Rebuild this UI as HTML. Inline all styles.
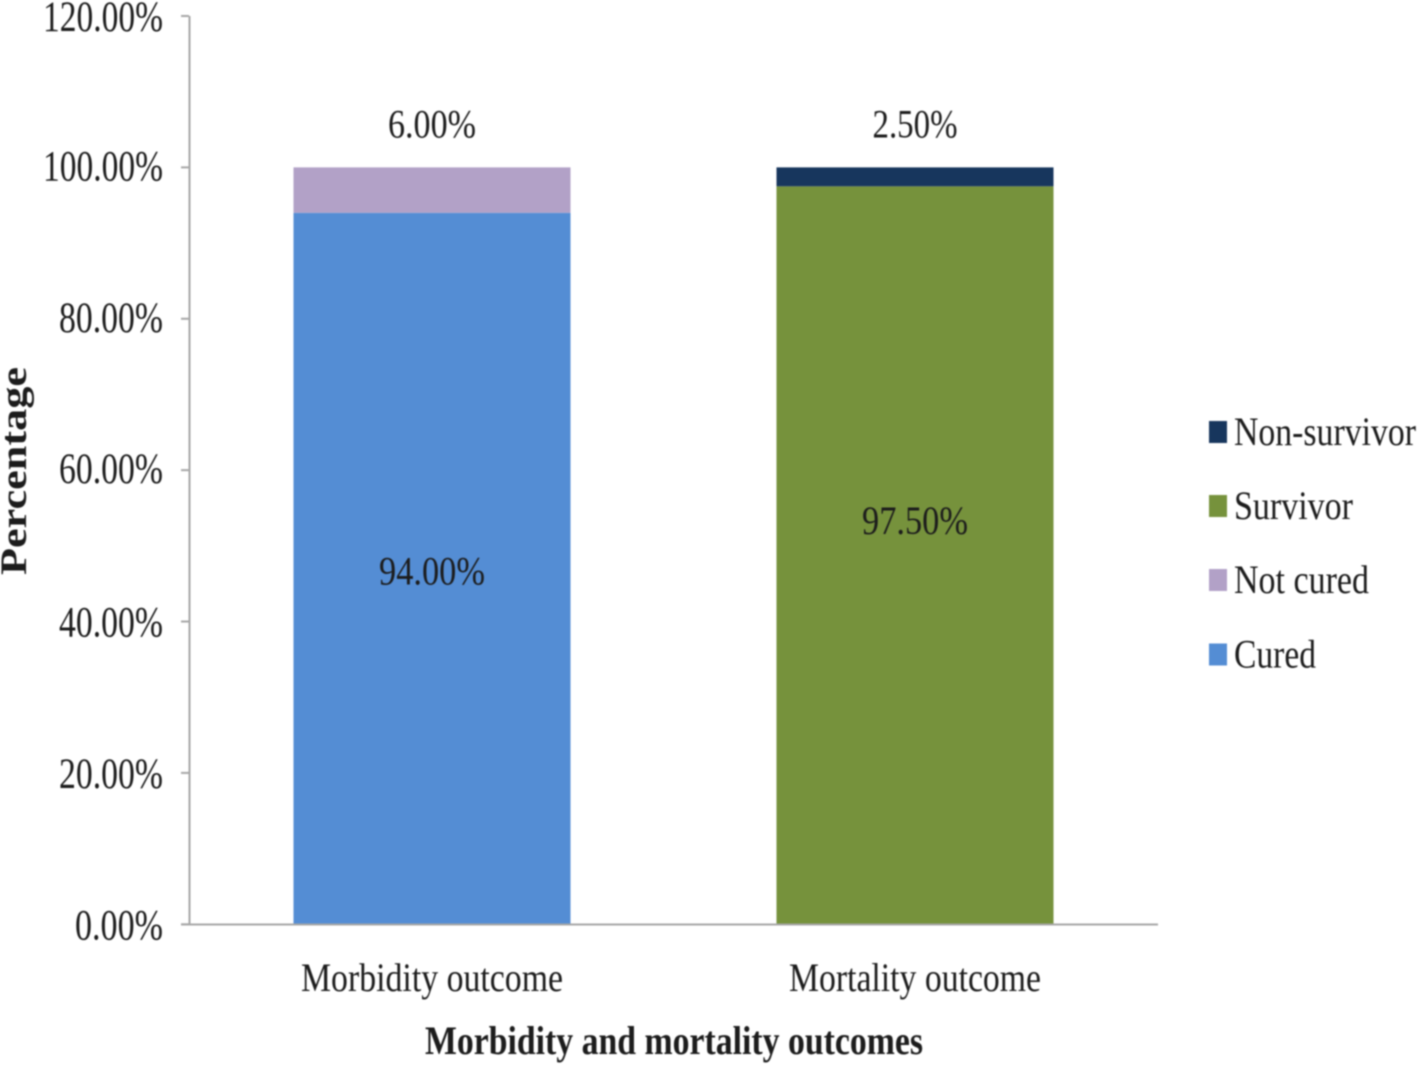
<!DOCTYPE html>
<html>
<head>
<meta charset="utf-8">
<style>
html,body{margin:0;padding:0;background:#fff;width:1418px;height:1066px;overflow:hidden}
svg{display:block;filter:blur(0.8px)}
text{font-family:"Liberation Serif",serif;fill:#1c1c1c}
</style>
</head>
<body>
<svg id="chart" width="1418" height="1066" viewBox="0 0 1418 1066" xmlns="http://www.w3.org/2000/svg"></svg>
<script>
const categories = ["Morbidity outcome", "Mortality outcome"];
const lowerValues = [94.0, 97.5];
const upperValues = [6.0, 2.5];
const lowerLabels = ["94.00%", "97.50%"];
const upperLabels = ["6.00%", "2.50%"];
const lowerLabelAnchors = [46.6, 53.3];
const lowerColors = ["#548dd4", "#76923c"];
const upperColors = ["#b2a1c7", "#17365d"];
const tickValues = [0, 20, 40, 60, 80, 100, 120];
const tickLabels = ["0.00%", "20.00%", "40.00%", "60.00%", "80.00%", "100.00%", "120.00%"];
const legendNames = ["Non-survivor", "Survivor", "Not cured", "Cured"];
const legendColors = ["#17365d", "#76923c", "#b2a1c7", "#548dd4"];

const svg = document.getElementById('chart');
const NS = 'http://www.w3.org/2000/svg';
const y = v => 924.3 - v * (924.3 - 16) / 120;
const xCenter = i => 432 + i * 483;
const barWidth = 277;

function make(tag, attrs, text) {
  const el = document.createElementNS(NS, tag);
  for (const k in attrs) el.setAttribute(k, attrs[k]);
  if (text !== undefined) el.textContent = text;
  svg.appendChild(el);
  return el;
}
function squeezed(x, yy, str, size, length, anchor, bold) {
  return make('text', {
    x: x, y: yy, 'font-size': size, 'text-anchor': anchor,
    textLength: length, lengthAdjust: 'spacingAndGlyphs',
    'font-weight': bold ? 'bold' : 'normal'
  }, str);
}

categories.forEach((c, i) => {
  const left = xCenter(i) - barWidth / 2;
  const lower = make('rect', {x: left, y: y(lowerValues[i]), width: barWidth, height: y(0) - y(lowerValues[i]), fill: lowerColors[i]});
  
  
  const top = lowerValues[i] + upperValues[i];
  const upper = make('rect', {x: left, y: y(top), width: barWidth, height: y(lowerValues[i]) - y(top), fill: upperColors[i]});
  
  

  const lowerText = squeezed(xCenter(i), y(lowerLabelAnchors[i]) + 13, lowerLabels[i], 40, 106, 'middle');
  
  
  const upperText = squeezed(xCenter(i), y(top) - 30, upperLabels[i], 40, i === 0 ? 88 : 85, 'middle');
  
  
  const catText = squeezed(xCenter(i), 991, c, 40, i === 0 ? 262 : 252, 'middle');
  
  
});

const yAxis = make('line', {x1: 189.5, y1: 16, x2: 189.5, y2: 925, stroke: '#a6a6a6', 'stroke-width': 2});


const xAxis = make('line', {x1: 181, y1: 924.5, x2: 1158, y2: 924.5, stroke: '#a6a6a6', 'stroke-width': 2});



tickValues.forEach((t, i) => {
  const tick = make('line', {x1: 181, y1: y(t), x2: 189, y2: y(t), stroke: '#a6a6a6', 'stroke-width': 2});
  
  
  const width = tickLabels[i].length * 16 + 8;
  const drop = (t < 60 || t === 120) ? 15 : 13;
  const label = squeezed(163, y(t) + drop, tickLabels[i], 43, width, 'end');
  
  
});

const yTitle = make('text', {
  transform: 'translate(26 471) rotate(-90)', 'font-size': 37, 'font-weight': 'bold',
  'text-anchor': 'middle', textLength: 208, lengthAdjust: 'spacingAndGlyphs'
}, 'Percentage');



const xTitle = squeezed(674, 1054, 'Morbidity and mortality outcomes', 40, 498, 'middle', true);



const legendRows = [432, 506, 580, 654.5];
const legendWidths = [182, 119, 135, 82];
legendNames.forEach((n, i) => {
  const swatch = make('rect', {x: 1209, y: legendRows[i] - 11, width: 18, height: 22, fill: legendColors[i]});
  
  
  const label = squeezed(1234, legendRows[i] + 13, n, 40, legendWidths[i], 'start');
  
  
});
</script>
</body>
</html>
